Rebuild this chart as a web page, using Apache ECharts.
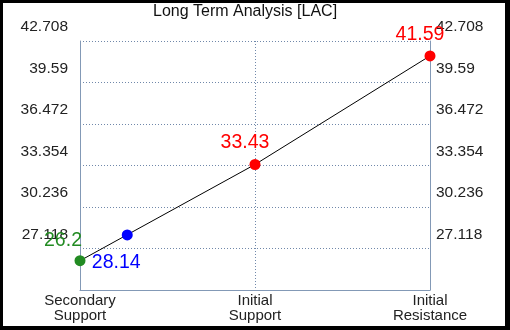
<!DOCTYPE html>
<html>
<head>
<meta charset="utf-8">
<script src="https://cdn.jsdelivr.net/npm/echarts@6/dist/echarts.min.js"></script>
<style>
  html, body { margin: 0; padding: 0; background: #000; width: 510px; height: 330px; overflow: hidden; }
  #main { position: absolute; left: 3px; top: 3px; width: 502px; height: 323px; background: #fff; }
</style>
</head>
<body>
<div id="main"></div>
<script>
// levels along the x axis
var categories = ['Secondary\nSupport', 'Initial\nSupport', 'Initial\nResistance'];
var levelValues = [26.2, 33.43, 41.59];
var levelColors = ['#228b22', '#ff0000', '#ff0000'];
// current price, drawn between the first two levels
var currentPos = [0.27];
var currentValue = [28.14];
// y axis ticks
var yMin = 24;
var yMax = 42.708;
var yStep = 3.118;

var myChart = echarts.init(document.getElementById('main'));

var gridColor = '#7088aa';
var font = 'Liberation Sans, Arial, sans-serif';

var yAxisBase = function (pos, margin) {
	return {
		type: 'value',
		position: pos,
		min: yMin,
		max: yMax,
		interval: yStep,
		axisLine: { show: true, lineStyle: { color: '#8399b6', width: 1 } },
		axisTick: { show: false },
		splitLine: { show: pos == 'left', lineStyle: { color: gridColor, type: [1, 2], width: 1 } },
		axisLabel: {
			showMinLabel: false,
			margin: margin,
			color: '#222',
			fontSize: 15.5,
			lineHeight: 16,
			fontFamily: font,
			verticalAlign: 'bottom',
			padding: [0, 0, 6, 0],
			formatter: function (v) { return String(+v.toFixed(3)); }
		}
	};
};

var labelOffsets = [[-17, -20], [-10, -22], [-10, -21]];

var option = {
	backgroundColor: '#fff',
	animation: false,
	title: {
		text: 'Long Term Analysis [LAC]',
		left: 145,
		top: -4,
		textStyle: { color: '#111', fontSize: 16, fontWeight: 'normal', fontFamily: font }
	},
	grid: { left: 77, right: 75, top: 38, bottom: 36 },
	xAxis: {
		type: 'value',
		min: 0,
		max: 2,
		interval: 1,
		axisLine: { show: true, lineStyle: { color: '#8399b6', width: 1 } },
		axisTick: { show: false },
		splitLine: { show: true, lineStyle: { color: gridColor, type: [1, 2], width: 1 } },
		axisLabel: {
			margin: 3,
			color: '#222',
			fontSize: 15,
			lineHeight: 15,
			fontFamily: font,
			formatter: function (v) { return categories[Math.round(v)] || ''; }
		}
	},
	yAxis: [yAxisBase('left', 12), yAxisBase('right', 6)],
	series: [
		{
			type: 'line',
			data: levelValues.map(function (v, i) {
				return {
					value: [i, v],
					itemStyle: { color: levelColors[i] },
					label: { color: levelColors[i], offset: labelOffsets[i] }
				};
			}),
			symbol: 'circle',
			symbolSize: 11,
			lineStyle: { color: '#000', width: 1 },
			label: {
				show: true,
				position: 'inside',
				fontSize: 19.5,
				fontFamily: font,
				formatter: function (p) { return p.value[1]; }
			},
			z: 3
		},
		{
			type: 'scatter',
			data: currentValue.map(function (v, i) { return [currentPos[i], v]; }),
			symbol: 'circle',
			symbolSize: 11,
			itemStyle: { color: '#0000ff', opacity: 1 },
			label: {
				show: true,
				position: 'inside',
				offset: [-11, 28],
				color: '#0000ff',
				fontSize: 19.5,
				fontFamily: font,
				formatter: function (p) { return p.value[1]; }
			},
			z: 4
		}
	]
};

myChart.setOption(option);
</script>
</body>
</html>
